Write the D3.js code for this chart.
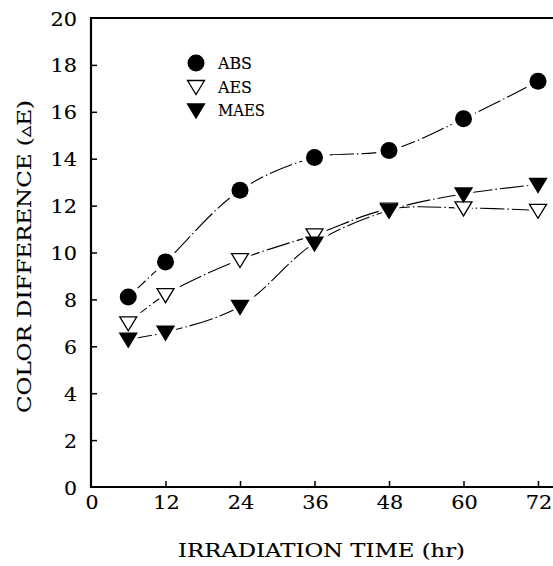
<!DOCTYPE html>
<html>
<head>
<meta charset="utf-8">
<script src="https://cdn.jsdelivr.net/npm/d3@7"></script>
<style>
  body { margin: 0; background: #fff; }
  text { font-family: "DejaVu Serif", serif; fill: #000; stroke: #000; stroke-width: 0.15px; }
</style>
</head>
<body>
<div id="chart"></div>
<script>
// irradiation time (hr)
var hours = [6, 12, 24, 36, 48, 60, 72];
var absVals  = [8.1, 9.6, 12.65, 14.05, 14.35, 15.7, 17.3];
var aesVals  = [7.0, 8.2, 9.7, 10.75, 11.85, 11.9, 11.8];
var maesVals = [6.3, 6.6, 7.7, 10.4, 11.8, 12.5, 12.9];
var xTicks = [0, 12, 24, 36, 48, 60, 72];
var yTicks = [0, 2, 4, 6, 8, 10, 12, 14, 16, 18, 20];
var seriesNames = ["ABS", "AES", "MAES"];

var width = 553, height = 566;

var svg = d3.select("#chart").append("svg")
  .attr("width", width)
  .attr("height", height);

var x = d3.scaleLinear().domain([0, 72]).range([91, 538]);
var y = d3.scaleLinear().domain([0, 20]).range([487, 18]);

// width of a label in the wide typewriter face of the original
function labelWidth(s) { return String(s).length * 13.5 - 0.5; }

// frame: left, bottom, top (no right side)
var frame = svg.append("g").attr("stroke", "#000").attr("stroke-width", 2.2);
frame.append("line").attr("x1", x(0)).attr("x2", x(0)).attr("y1", y(20) - 1).attr("y2", y(0) + 1);
frame.append("line").attr("x1", x(0) - 1).attr("x2", width).attr("y1", y(0)).attr("y2", y(0));
frame.append("line").attr("x1", x(0) - 1).attr("x2", width).attr("y1", y(20)).attr("y2", y(20));

// y axis, ticks pointing inward
var yAxis = svg.append("g")
  .attr("transform", "translate(" + x(0) + ",0)")
  .call(d3.axisRight(y).tickValues(yTicks).tickSize(6).tickFormat(""));
yAxis.select(".domain").remove();
yAxis.selectAll(".tick line").attr("stroke-width", 1.5)
  .filter(function (d) { return d === 0 || d === 20; }).remove();

svg.selectAll(".ylab")
  .data(yTicks)
  .enter().append("text")
  .attr("class", "ylab")
  .attr("x", function (d) { return 77 - labelWidth(d); })
  .attr("y", function (d) { return y(d) + 7.5; })
  .attr("textLength", function (d) { return labelWidth(d); })
  .attr("lengthAdjust", "spacingAndGlyphs")
  .style("font-size", "19px")
  .text(function (d) { return d; });

// x axis, ticks pointing up
var xAxis = svg.append("g")
  .attr("transform", "translate(0," + y(0) + ")")
  .call(d3.axisTop(x).tickValues(xTicks).tickSize(6).tickFormat(""));
xAxis.select(".domain").remove();
xAxis.selectAll(".tick line").attr("stroke-width", 1.5)
  .filter(function (d) { return d === 0; }).remove();

svg.selectAll(".xlab")
  .data(xTicks)
  .enter().append("text")
  .attr("class", "xlab")
  .attr("x", function (d) { return x(d) + 1 - labelWidth(d) / 2; })
  .attr("y", 509)
  .attr("textLength", function (d) { return labelWidth(d); })
  .attr("lengthAdjust", "spacingAndGlyphs")
  .style("font-size", "19px")
  .text(function (d) { return d; });

// axis titles
svg.append("text")
  .attr("x", 178)
  .attr("y", 557)
  .attr("textLength", 287)
  .attr("lengthAdjust", "spacingAndGlyphs")
  .style("font-size", "19px")
  .text("IRRADIATION TIME (hr)");

svg.append("text")
  .attr("transform", "translate(31,413) rotate(-90)")
  .attr("textLength", 313)
  .attr("lengthAdjust", "spacingAndGlyphs")
  .style("font-size", "19px")
  .text("COLOR DIFFERENCE (\u25B5E)");

// lines
var series = [
  { name: "ABS", values: absVals, marker: "circle" },
  { name: "AES", values: aesVals, marker: "open" },
  { name: "MAES", values: maesVals, marker: "filled" }
];

var line = d3.line()
  .x(function (d) { return x(d[0]); })
  .y(function (d) { return y(d[1]); })
  .curve(d3.curveCatmullRom.alpha(0.5));

svg.selectAll(".series")
  .data(series)
  .enter().append("path")
  .attr("class", "series")
  .attr("d", function (s) { return line(d3.zip(hours, s.values)); })
  .attr("fill", "none")
  .attr("stroke", "#000")
  .attr("stroke-width", 1.1)
  .attr("stroke-dasharray", "24,3,1.5,3");

// markers
var triDown = "M-8.5,-6 L8.5,-6 L0,8 Z";
var triDownHalo = "M-15,-10 L15,-10 L0,14 Z";

function drawMarker(g, kind) {
  if (kind === "circle") {
    g.append("circle").attr("r", 8.5).attr("fill", "#000");
  } else {
    g.append("path").attr("d", triDown)
      .attr("fill", kind === "filled" ? "#000" : "#fff")
      .attr("stroke", "#000")
      .attr("stroke-width", 1.3);
  }
}

// white halos first so the lines stop short of the marks
series.forEach(function (s) {
  hours.forEach(function (h, i) {
    var g = svg.append("g").attr("transform", "translate(" + x(h) + "," + y(s.values[i]) + ")");
    if (s.marker === "circle") g.append("circle").attr("r", 13).attr("fill", "#fff");
    else g.append("path").attr("d", triDownHalo).attr("fill", "#fff");
  });
});
series.forEach(function (s) {
  hours.forEach(function (h, i) {
    var g = svg.append("g").attr("transform", "translate(" + x(h) + "," + y(s.values[i]) + ")");
    drawMarker(g, s.marker);
  });
});

// legend
var legendWidths = [34, 34, 47];
series.forEach(function (s, i) {
  var ly = 63 + i * 23.5;
  var g = svg.append("g").attr("transform", "translate(196," + ly + ")");
  drawMarker(g, s.marker);
  svg.append("text")
    .attr("x", 218)
    .attr("y", ly + 6)
    .attr("textLength", legendWidths[i])
    .attr("lengthAdjust", "spacingAndGlyphs")
    .style("font-size", "16px")
    .text(seriesNames[i]);
});
</script>
</body>
</html>
